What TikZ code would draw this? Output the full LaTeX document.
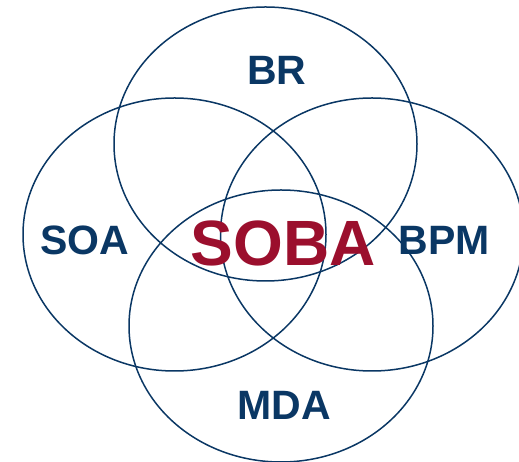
\documentclass[tikz,border=0pt]{standalone}
\usepackage{fontspec}
\setmainfont{Liberation Sans}
\definecolor{vblue}{RGB}{10,55,100}
\definecolor{vred}{RGB}{155,15,45}
\begin{document}
\begin{tikzpicture}[x=1pt,y=1pt,
  ring/.style={draw=vblue,line width=1.5pt},
  lab/.style={text=vblue,font=\bfseries\fontsize{41}{41}\selectfont,inner sep=0pt},
  core/.style={text=vred,font=\bfseries\fontsize{64}{64}\selectfont,inner sep=0pt}]
\useasboundingbox (0,0) rectangle (519,462);
\begin{scope}
\clip (0,0) rectangle (519,462);
\draw[ring] (265.5,318) ellipse [x radius=151.5,y radius=137];
\draw[ring] (174.5,227.5) ellipse [x radius=151.5,y radius=136.5];
\draw[ring] (372,227.5) ellipse [x radius=151.5,y radius=136.5];
\draw[ring] (281,136) ellipse [x radius=152,y radius=136];
\end{scope}
\node[lab] (br) at (277,392) {BR};
\node[lab] (soa) at (85,222) {SOA};
\node[lab] (bpm) at (444,222) {BPM};
\node[lab] (mda) at (284,57) {MDA};
\node[core] (soba) at (283,219) {SOBA};
\end{tikzpicture}
\end{document}
